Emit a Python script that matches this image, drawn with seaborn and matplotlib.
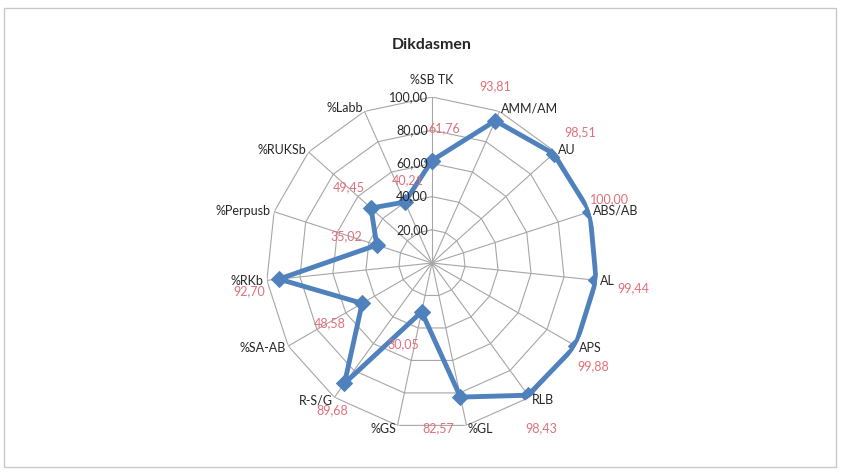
import numpy as np
import pandas as pd
import matplotlib
matplotlib.use('Agg')
import matplotlib.pyplot as plt
import seaborn as sns
from matplotlib.patches import Rectangle

categories = ['%SB TK', 'AMM/AM', 'AU', 'ABS/AB', 'AL', 'APS', 'RLB', '%GL',
              '%GS', 'R-S/G', '%SA-AB', '%RKb', '%Perpusb', '%RUKSb', '%Labb']
values = [61.76, 93.81, 98.51, 100.00, 99.44, 99.88, 98.43, 82.57,
          30.05, 89.68, 48.58, 92.70, 35.02, 49.45, 40.21]
ring_ticks = [20, 40, 60, 80, 100]
title = 'Dikdasmen'

# where each value label sits relative to its marker (pixels, y up)
label_offsets = [(12, 32), (0, 35), (27, 21), (20, 13), (37, -8), (18, -20),
                 (13, -33), (-22, -31), (-18, -32), (-12, -27), (-32, -20),
                 (-30, -12), (-30, 9), (-22, 21), (3, 22)]

line_color = '#4f81bd'
label_color = '#e0707c'
grid_color = '#a6a6a6'
text_color = '#262626'


def fmt(v):
    return ('%.2f' % v).replace('.', ',')


def main():
    sns.set_theme(style='white')
    plt.rcParams['font.family'] = ['Lato', 'DejaVu Sans']

    fig = plt.figure(figsize=(8.42, 4.74), dpi=100)
    fig.patches.append(Rectangle((0.005, 0.015), 0.988, 0.968, transform=fig.transFigure,
                                 fill=False, edgecolor='#c8c8c8', linewidth=1.0))
    ax = fig.add_axes([0.3159, 0.0949, 0.3943, 0.7004], projection='polar')
    ax.set_theta_zero_location('N')
    ax.set_theta_direction(-1)

    n = len(categories)
    angles = np.linspace(0, 2 * np.pi, n, endpoint=False)

    # polygon grid like Excel radar
    ax.grid(False)
    ax.spines['polar'].set_visible(False)
    ax.set_xticks([])
    ax.set_yticks([])
    closed = np.append(angles, angles[0])
    for r in ring_ticks:
        ax.plot(closed, [r] * len(closed), color=grid_color, lw=0.8, zorder=1)
    for a in angles:
        ax.plot([a, a], [0, ring_ticks[-1]], color=grid_color, lw=0.8, zorder=1)
    ax.set_ylim(0, 100)

    df = pd.DataFrame({'angle': np.append(angles, 2 * np.pi),
                       'value': values + values[:1]})
    sns.lineplot(data=df, x='angle', y='value', ax=ax, sort=False, color=line_color,
                 linewidth=3.5, marker='D', markersize=8, markeredgecolor=line_color,
                 zorder=3)
    ax.set_xlabel('')
    ax.set_ylabel('')

    # ring value labels to the left of the top spoke
    for r in ring_ticks:
        ax.annotate(fmt(r), xy=(0, r), xytext=(-4, 0), textcoords='offset pixels',
                    ha='right', va='center', fontsize=9, color=text_color, zorder=4)

    # category labels
    for a, c in zip(angles, categories):
        s = np.sin(a)
        if s > 0.1:
            ha = 'left'
        elif s < -0.1:
            ha = 'right'
        else:
            ha = 'center'
        r = 110 if np.cos(a) > 0.95 else 102
        ax.text(a, r, c, ha=ha, va='center', fontsize=9, color=text_color, zorder=4)

    # data labels
    for a, v, off in zip(angles, values, label_offsets):
        ax.annotate(fmt(v), xy=(a, v), xytext=off, textcoords='offset pixels',
                    ha='center', va='center', fontsize=9, color=label_color, zorder=4)

    fig.text(0.513, 0.905, title, ha='center', va='center', fontsize=11.5,
             fontweight='bold', color=text_color)

    fig.savefig('out.png', dpi=100)


if __name__ == '__main__':
    main()
